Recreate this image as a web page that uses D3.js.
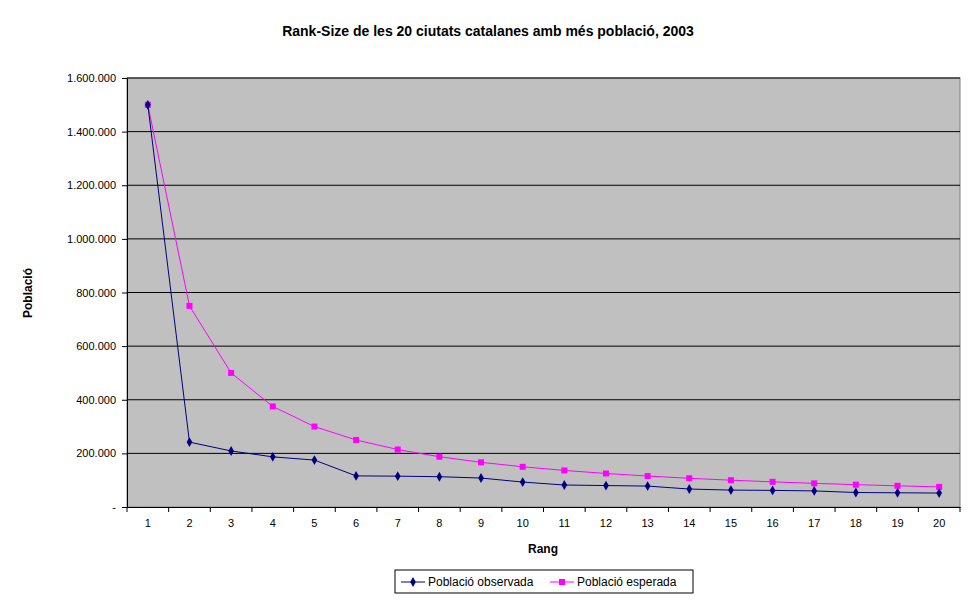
<!DOCTYPE html>
<html>
<head>
<meta charset="utf-8">
<script src="https://cdn.jsdelivr.net/npm/d3@7"></script>
<style>body{margin:0;background:#fff;font-family:"Liberation Sans",Arial,sans-serif}</style>
</head>
<body>
<div id="chart"></div>
<script>
var ranks = d3.range(1, 21)
var observed = [1500000, 242000, 209000, 187000, 175000, 116000, 115000, 113000, 108000, 93000,
                82000, 80000, 78000, 67000, 63000, 62000, 60000, 54000, 53000, 52000]
var expected = [1500000, 750000, 500000, 375000, 300000, 250000, 214286, 187500, 166667, 150000,
                136364, 125000, 115385, 107143, 100000, 93750, 88235, 83333, 78947, 75000]
var yTicks = [0, 200000, 400000, 600000, 800000, 1000000, 1200000, 1400000, 1600000]

var w = 968, h = 608
var m = {left: 127, right: 8, top: 78, bottom: 101}

var svg = d3.select("#chart").append("svg").attr("width", w).attr("height", h)
    .style("font-family", "'Liberation Sans', Arial, sans-serif")

var x = d3.scaleBand().domain(ranks).range([m.left, w - m.right])
var y = d3.scaleLinear().domain([0, 1600000]).range([h - m.bottom, m.top])
var fmt = function(v){ return v === 0 ? "-" : d3.format(",")(v).replace(/,/g, ".") }

svg.append("rect").attr("x", m.left).attr("y", m.top)
    .attr("width", w - m.left - m.right).attr("height", h - m.top - m.bottom)
    .attr("fill", "#c0c0c0").attr("stroke", "#808080")

svg.selectAll(".grid").data(yTicks.slice(1)).enter().append("line")
    .attr("x1", m.left).attr("x2", w - m.right)
    .attr("y1", function(d){ return y(d) }).attr("y2", function(d){ return y(d) })
    .attr("stroke", "#000").attr("stroke-width", 1)

var yAxis = svg.append("g").attr("transform", "translate(" + m.left + ",0)")
    .call(d3.axisLeft(y).tickValues(yTicks).tickFormat(fmt).tickSize(5).tickPadding(6))
yAxis.selectAll("text").style("font-size", "11px").attr("fill", "#000")
yAxis.select(".domain").attr("stroke", "#000")

var xAxis = svg.append("g").attr("transform", "translate(0," + (h - m.bottom) + ")")
    .call(d3.axisBottom(x).tickSize(0).tickPadding(12))
xAxis.selectAll("text").style("font-size", "11px").attr("fill", "#000")
xAxis.select(".domain").attr("stroke", "#000")
// tick marks at band boundaries
svg.selectAll(".xt").data(ranks.concat([21])).enter().append("line")
    .attr("x1", function(d){ return d <= 20 ? x(d) : x(20) + x.bandwidth() })
    .attr("x2", function(d){ return d <= 20 ? x(d) : x(20) + x.bandwidth() })
    .attr("y1", h - m.bottom).attr("y2", h - m.bottom + 5).attr("stroke", "#000")

var cx = function(d, i){ return x(ranks[i]) + x.bandwidth() / 2 }
var line = d3.line().x(cx).y(function(d){ return y(d) })

svg.append("path").datum(expected).attr("d", line).attr("fill", "none").attr("stroke", "#ff00ff")
svg.append("path").datum(observed).attr("d", line).attr("fill", "none").attr("stroke", "#000080")

svg.selectAll(".sq").data(expected).enter().append("rect")
    .attr("x", function(d, i){ return cx(d, i) - 3 }).attr("y", function(d){ return y(d) - 3 })
    .attr("width", 6).attr("height", 6).attr("fill", "#ff00ff")
svg.selectAll(".dm").data(observed).enter().append("path")
    .attr("d", d3.symbol().type(d3.symbolDiamond).size(28))
    .attr("transform", function(d, i){ return "translate(" + cx(d, i) + "," + y(d) + ")" })
    .attr("fill", "#000080")

svg.append("text").attr("x", 488).attr("y", 36).attr("text-anchor", "middle")
    .style("font-size", "14px").style("font-weight", "bold").text("Rank-Size de les 20 ciutats catalanes amb més població, 2003")
svg.append("text").attr("x", 543).attr("y", 553).attr("text-anchor", "middle")
    .style("font-size", "12px").style("font-weight", "bold").text("Rang")
svg.append("text").attr("transform", "translate(32,293) rotate(-90)").attr("text-anchor", "middle")
    .style("font-size", "12px").style("font-weight", "bold").text("Població")

var lg = svg.append("g").attr("transform", "translate(395,570)")
lg.append("rect").attr("width", 298).attr("height", 23).attr("fill", "#fff").attr("stroke", "#000")
lg.append("line").attr("x1", 6).attr("x2", 30).attr("y1", 12).attr("y2", 12).attr("stroke", "#000080")
lg.append("path").attr("d", d3.symbol().type(d3.symbolDiamond).size(28)).attr("transform", "translate(18,12)").attr("fill", "#000080")
lg.append("text").attr("x", 33).attr("y", 16).style("font-size", "12px").text("Població observada")
lg.append("line").attr("x1", 155).attr("x2", 179).attr("y1", 12).attr("y2", 12).attr("stroke", "#ff00ff")
lg.append("rect").attr("x", 164).attr("y", 9).attr("width", 6).attr("height", 6).attr("fill", "#ff00ff")
lg.append("text").attr("x", 182).attr("y", 16).style("font-size", "12px").text("Població esperada")
</script>
</body>
</html>
